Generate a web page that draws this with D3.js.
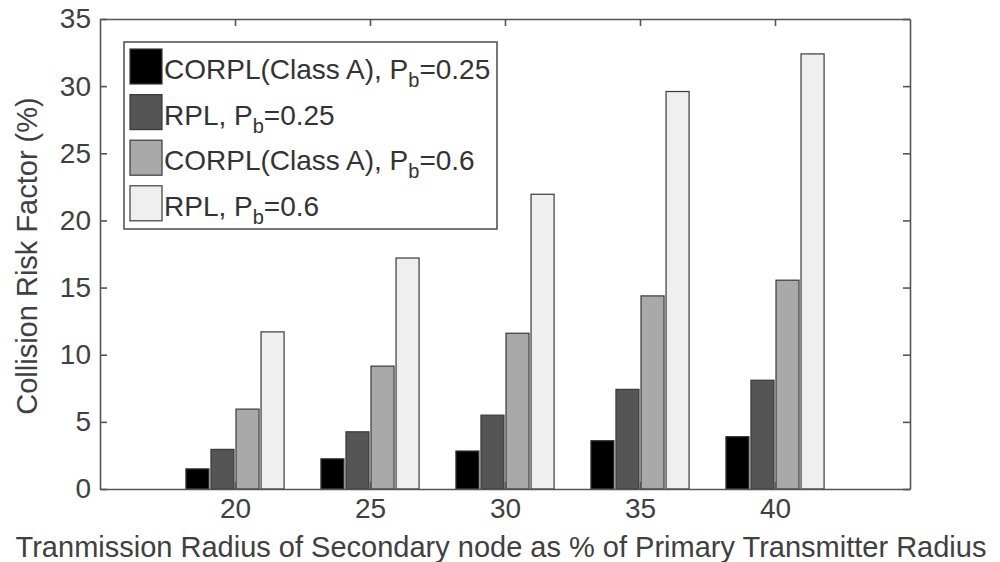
<!DOCTYPE html>
<html>
<head>
<meta charset="utf-8">
<script src="https://cdn.jsdelivr.net/npm/d3@7"></script>
<style>
  body { margin: 0; background: #fff; }
  svg { display: block; font-family: "Liberation Sans", Arial, sans-serif; }
</style>
</head>
<body>
<div id="chart"></div>
<script>
// data
const radii = [20, 25, 30, 35, 40];
const seriesNames = ["corplA25", "rpl25", "corplA60", "rpl60"];
const corplA25 = [1.5, 2.25, 2.83, 3.6, 3.9];
const rpl25 = [2.95, 4.26, 5.5, 7.42, 8.1];
const corplA60 = [5.95, 9.15, 11.6, 14.38, 15.55];
const rpl60 = [11.7, 17.2, 21.95, 29.6, 32.4];
const legendMain = ["CORPL(Class A), P", "RPL, P", "CORPL(Class A), P", "RPL, P"];
const legendTail = ["=0.25", "=0.25", "=0.6", "=0.6"];
const fills = ["#000000", "#555555", "#a9a9a9", "#efefef"];
const yTicks = [0, 5, 10, 15, 20, 25, 30, 35];

const values = [corplA25, rpl25, corplA60, rpl60];

const width = 1000, height = 562;
const margin = { top: 19, right: 90, bottom: 73, left: 100 };
const innerW = width - margin.left - margin.right;
const innerH = height - margin.top - margin.bottom;

const svg = d3.select("#chart").append("svg")
  .attr("width", width)
  .attr("height", height);

const g = svg.append("g").attr("transform", `translate(${margin.left},${margin.top})`);

const xScale = d3.scaleLinear().domain([15, 45]).range([0, innerW]);
const yScale = d3.scaleLinear().domain([0, 35]).range([innerH, 0]);

// matlab style grouped bars
const step = xScale(20) - xScale(15);
const groupW = step * Math.min(0.8, 4 / 5.5);
const offset = d3.scaleBand()
  .domain(seriesNames)
  .range([-groupW / 2, groupW / 2])
  .paddingInner(0.08);

const axisColor = "#555";
const textColor = "#404040";

// bars
seriesNames.forEach((s, si) => {
  g.append("g")
    .selectAll("rect")
    .data(values[si])
    .enter()
    .append("rect")
    .attr("x", (d, i) => xScale(radii[i]) + offset(s))
    .attr("width", offset.bandwidth())
    .attr("y", (d) => yScale(d))
    .attr("height", (d) => yScale(0) - yScale(d))
    .attr("fill", fills[si])
    .attr("stroke", "#3a3a3a")
    .attr("stroke-width", 1.2);
});

// axes (ticks pointing inward, box all round)
const styleAxis = (sel) => {
  sel.selectAll("path, line").attr("stroke", axisColor).attr("stroke-width", 1.6);
  sel.selectAll("text")
    .attr("fill", textColor)
    .attr("font-size", 28)
    .attr("font-family", "Liberation Sans, Arial, sans-serif");
};

g.append("g")
  .call(d3.axisLeft(yScale).tickValues(yTicks).tickSizeInner(-7).tickSizeOuter(0).tickPadding(9))
  .call(styleAxis);

g.append("g")
  .attr("transform", `translate(${innerW},0)`)
  .call(d3.axisRight(yScale).tickValues(yTicks).tickSizeInner(-7).tickSizeOuter(0).tickFormat(""))
  .call(styleAxis);

g.append("g")
  .attr("transform", `translate(0,${innerH})`)
  .call(d3.axisBottom(xScale).tickValues(radii).tickSizeInner(-7).tickSizeOuter(0).tickPadding(9))
  .call(styleAxis);

g.append("g")
  .call(d3.axisTop(xScale).tickValues(radii).tickSizeInner(-7).tickSizeOuter(0).tickFormat(""))
  .call(styleAxis);

// axis titles
svg.append("text")
  .attr("x", 501)
  .attr("y", 557)
  .attr("text-anchor", "middle")
  .attr("font-size", 29)
  .attr("fill", textColor)
  .text("Tranmission Radius of Secondary node as % of Primary Transmitter Radius");

svg.append("text")
  .attr("transform", "translate(37,256) rotate(-90)")
  .attr("text-anchor", "middle")
  .attr("font-size", 29)
  .attr("fill", textColor)
  .text("Collision Risk Factor (%)");

// legend
const legend = svg.append("g").attr("transform", "translate(124,42)");
legend.append("rect")
  .attr("width", 373)
  .attr("height", 187)
  .attr("fill", "#fff")
  .attr("stroke", axisColor)
  .attr("stroke-width", 1.6);

const rows = legend.selectAll("g.row")
  .data(seriesNames)
  .enter()
  .append("g")
  .attr("class", "row")
  .attr("transform", (d, i) => `translate(6,${7 + i * 45.6})`);

rows.append("rect")
  .attr("width", 32)
  .attr("height", 35)
  .attr("fill", (d, i) => fills[i])
  .attr("stroke", "#3a3a3a")
  .attr("stroke-width", 1.2);

const labels = rows.append("text")
  .attr("x", 34)
  .attr("y", 30)
  .attr("font-size", 28)
  .attr("fill", "#333");
labels.append("tspan").text((d, i) => legendMain[i]);
labels.append("tspan").attr("font-size", 20).attr("dy", 8).text("b");
labels.append("tspan").attr("dy", -8).text((d, i) => legendTail[i]);
</script>
</body>
</html>
